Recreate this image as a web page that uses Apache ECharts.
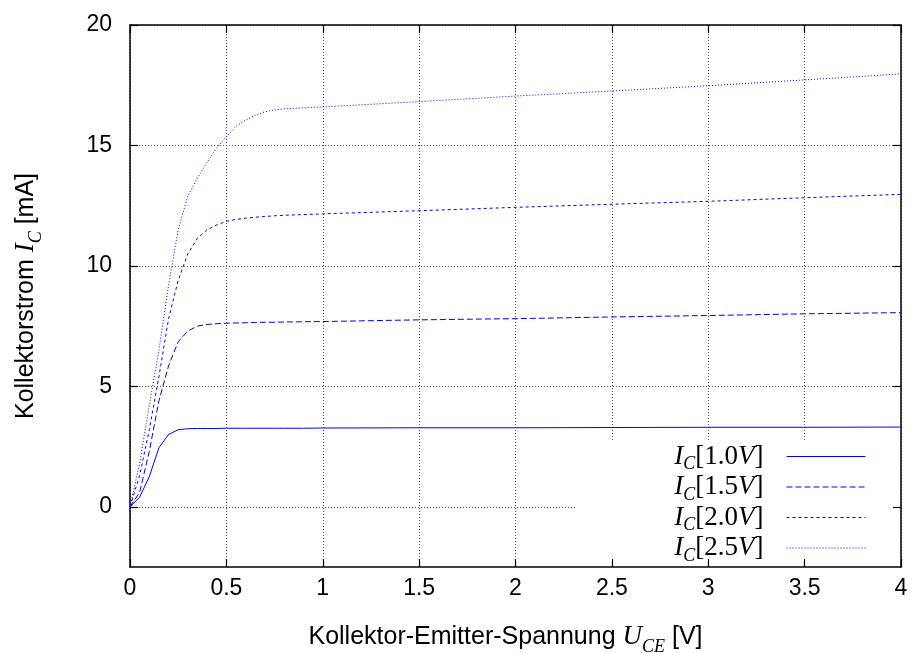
<!DOCTYPE html>
<html>
<head>
<meta charset="utf-8">
<script src="https://cdn.jsdelivr.net/npm/echarts@6/dist/echarts.min.js"></script>
<style>
html,body{margin:0;padding:0;background:#fff;}
#chart{width:913px;height:653px;}
</style>
</head>
<body>
<div id="chart"></div>
<script>
// Collector-emitter voltage U_CE [V]
var voltage = [0, 0.05, 0.1, 0.15, 0.2, 0.25, 0.3, 0.35, 0.4, 0.45, 0.5, 0.55, 0.6, 0.65, 0.7, 0.75, 0.8, 0.9, 1.0, 1.5, 2.0, 2.5, 3.0, 3.5, 4.0];
// Collector current I_C [mA] for base voltages
var ic10 = [0, 0.4, 1.25, 2.45, 3.0, 3.2, 3.24, 3.25, 3.25, 3.25, 3.26, 3.26, 3.26, 3.26, 3.26, 3.26, 3.26, 3.26, 3.27, 3.28, 3.28, 3.29, 3.3, 3.3, 3.31];
var ic15 = [0, 0.6, 2.3, 4.4, 5.85, 6.85, 7.3, 7.5, 7.57, 7.6, 7.62, 7.63, 7.64, 7.65, 7.66, 7.66, 7.67, 7.68, 7.69, 7.76, 7.81, 7.88, 7.94, 8.01, 8.06];
var ic20 = [0, 1.3, 3.2, 5.4, 7.8, 9.4, 10.5, 11.15, 11.5, 11.7, 11.85, 11.93, 11.98, 12.02, 12.05, 12.08, 12.1, 12.13, 12.16, 12.29, 12.43, 12.56, 12.68, 12.83, 12.97];
var ic25 = [0, 1.8, 4.2, 6.5, 9.2, 11.5, 12.9, 13.65, 14.3, 14.9, 15.35, 15.8, 16.05, 16.25, 16.4, 16.47, 16.52, 16.56, 16.6, 16.82, 17.05, 17.26, 17.48, 17.72, 17.97];
var seriesLabels = ['1.0', '1.5', '2.0', '2.5'];
var xTicks = [0, 0.5, 1, 1.5, 2, 2.5, 3, 3.5, 4];
var yTicks = [0, 5, 10, 15, 20];

var allSeries = [ic10, ic15, ic20, ic25];
var dashes = ['solid', [6, 3], [3, 3], [1, 2]];

function pairs(ys) {
  return voltage.map(function (v, i) { return [v, ys[i]]; });
}

var sansFont = "'Liberation Sans', Arial, sans-serif";
var serifFont = "'Liberation Serif', 'DejaVu Serif', serif";

var gridLine = { show: true, lineStyle: { color: '#555', width: 1, type: [1, 2] } };
var axLine = { show: true, onZero: false, lineStyle: { color: '#000', width: 1.5 } };
var tickStyle = { color: '#000', width: 1.2 };

var series = allSeries.map(function (ys, k) {
  return {
    name: seriesLabels[k],
    type: 'line',
    data: pairs(ys),
    showSymbol: false,
    symbol: 'circle',
    symbolSize: 0,
    smooth: false,
    z: 3,
    lineStyle: { color: '#0000ff', width: 1, type: dashes[k] },
    itemStyle: { color: '#0000ff' },
    emphasis: { disabled: true },
    animation: false
  };
});

var nameRich = {
  t: { fontSize: 25, fontFamily: sansFont, color: '#000', lineHeight: 30 },
  i: { fontSize: 27, fontFamily: serifFont, fontStyle: 'italic', color: '#000', lineHeight: 30 },
  s: { fontSize: 18, fontFamily: serifFont, fontStyle: 'italic', color: '#000', lineHeight: 18, verticalAlign: 'bottom', padding: [0, 0, -4, 0] }
};

var option = {
  animation: false,
  backgroundColor: '#fff',
  grid: { left: 130, right: 12, top: 25, bottom: 86, containLabel: false, outerBoundsMode: 'none' },
  xAxis: [{
    type: 'value', min: 0, max: 4, interval: 0.5, position: 'bottom',
    axisLine: axLine,
    axisTick: { show: true, inside: true, length: 8, lineStyle: tickStyle, customValues: xTicks },
    axisLabel: { show: true, margin: 10, color: '#000', fontSize: 23, fontFamily: sansFont, customValues: xTicks },
    splitLine: gridLine,
    name: '{t|Kollektor-Emitter-Spannung }{i|U}{s|CE}{t| [V]}',
    nameLocation: 'middle', nameGap: 55,
    nameTextStyle: { rich: nameRich, padding: [0, 20, 0, 0] }
  }, {
    type: 'value', min: 0, max: 4, interval: 0.5, position: 'top',
    axisLine: axLine,
    axisTick: { show: true, inside: true, length: 8, lineStyle: tickStyle, customValues: xTicks },
    axisLabel: { show: false },
    splitLine: { show: false }
  }],
  yAxis: [{
    type: 'value', min: -2.5, max: 20, interval: 2.5, position: 'left',
    axisLine: axLine,
    axisTick: { show: true, inside: true, length: 8, lineStyle: tickStyle, customValues: yTicks },
    axisLabel: { show: true, margin: 18, color: '#000', fontSize: 23, fontFamily: sansFont, customValues: yTicks },
    splitLine: gridLine,
    name: '{t|Kollektorstrom }{i|I}{s|C}{t| [mA]}',
    nameLocation: 'middle', nameGap: 89, nameRotate: 90,
    nameTextStyle: { rich: nameRich }
  }, {
    type: 'value', min: -2.5, max: 20, interval: 2.5, position: 'right',
    axisLine: axLine,
    axisTick: { show: true, inside: true, length: 8, lineStyle: tickStyle, customValues: yTicks },
    axisLabel: { show: false },
    splitLine: { show: false }
  }],
  graphic: [{
    type: 'rect', z: 1, silent: true,
    shape: { x: 575, y: 442, width: 318, height: 117 },
    style: { fill: '#fff' }
  }],
  legend: {
    show: true,
    orient: 'vertical',
    align: 'right',
    right: 47,
    top: 443,
    padding: 0,
    itemGap: 0,
    itemWidth: 79,
    itemHeight: 14,
    selectedMode: false,
    data: seriesLabels,
    itemStyle: { opacity: 0 },
    lineStyle: { width: 1, color: '#0000ff' },
    formatter: function (name) {
      return '{i|I}{s|C}{n|[' + name + '}{i|V}{n|]}';
    },
    textStyle: {
      padding: [0, 18, 0, 0],
      color: '#000',
      rich: {
        i: { fontSize: 27, fontFamily: serifFont, fontStyle: 'italic', color: '#000', lineHeight: 26 },
        n: { fontSize: 27, fontFamily: serifFont, color: '#000', lineHeight: 26 },
        s: { fontSize: 18, fontFamily: serifFont, fontStyle: 'italic', color: '#000', lineHeight: 18, verticalAlign: 'bottom', padding: [0, 0, -4, 0] }
      }
    }
  },
  series: series
};

var chart = echarts.init(document.getElementById('chart'), null, { renderer: 'canvas' });
chart.setOption(option);
</script>
</body>
</html>
